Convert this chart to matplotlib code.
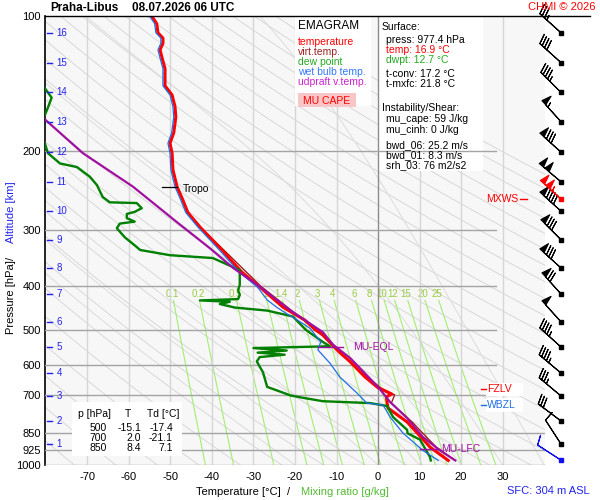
import numpy as np
import matplotlib.pyplot as plt
from matplotlib.patches import Rectangle
from matplotlib.ticker import NullLocator

plt.rcParams['font.family'] = ['Liberation Sans', 'DejaVu Sans']

# ---- sounding (hPa / degC) ----
temp_p = [100, 104, 109, 112, 115, 119, 124, 131, 143, 150, 159, 168, 182, 192, 202, 220,
          240, 257, 274, 295, 332, 372, 402, 445, 476, 500, 513, 554, 589, 636, 673, 695,
          705, 728, 747, 802, 850, 912, 977]
temp_t = [-54.5, -53.3, -53.0, -51.8, -51.8, -52.5, -52.0, -51.3, -51.3, -49.6, -48.9, -48.7,
          -49.2, -50.1, -49.6, -49.4, -48.4, -47.0, -45.8, -42.9, -37.6, -32.8, -28.4, -22.9,
          -17.6, -15.1, -13.3, -9.9, -6.7, -3.2, 0.0, 3.3, 2.0, 2.2, 2.4, 7.0, 9.5, 12.5, 16.9]

virt_p = [300, 400, 500, 600, 673, 698, 728, 802, 850, 912, 977]
virt_t = [-42.0, -28.2, -14.9, -6.0, 0.6, 4.0, 3.2, 8.2, 10.8, 14.0, 18.6]

dew_p = [140, 145, 152, 160, 166, 176, 186, 202, 213, 217, 228, 238, 253, 260, 261, 268,
         273, 276, 282, 287, 290, 297, 311, 327, 332, 341, 346, 368, 397, 408, 418, 427,
         430, 433, 438, 446, 453, 467, 500, 513, 532, 544, 549, 556, 562, 568, 575, 588,
         622, 670, 690, 700, 710, 721, 728, 739, 782, 835, 850, 878, 960, 977]
dew_t = [-82.0, -80.2, -78.6, -79.5, -80.2, -83.0, -80.7, -79.5, -76.6, -72.5, -69.4, -67.7,
         -66.3, -64.6, -58.1, -56.9, -58.6, -60.5, -60.5, -58.6, -62.2, -62.9, -61.0, -58.1,
         -57.3, -50.1, -39.8, -33.3, -33.3, -33.7, -33.3, -33.7, -42.9, -35.7, -38.1, -34.5,
         -26.7, -20.5, -17.4, -15.7, -13.3, -11.6, -30.0, -22.0, -29.0, -22.5, -28.5, -29.2,
         -27.7, -26.7, -22.9, -21.1, -17.5, -13.3, -1.9, 2.2, 3.6, 7.0, 7.1, 10.1, 12.5, 12.7]

wet_p = [100, 104, 109, 112, 115, 119, 124, 131, 143, 150, 159, 168, 182, 192, 202, 220,
         240, 257, 274, 295, 332, 372, 402, 429, 446, 459, 475, 496, 532, 554, 593, 637,
         691, 728, 735, 782, 849, 928, 977]
wet_t = [-55.0, -53.8, -53.5, -52.3, -52.3, -53.0, -52.5, -51.8, -51.8, -50.1, -49.4, -49.2,
         -49.7, -50.6, -50.1, -49.9, -48.9, -47.5, -46.3, -43.4, -38.2, -33.4, -29.0, -26.7,
         -24.3, -22.2, -19.5, -16.4, -13.8, -14.5, -11.6, -9.2, -5.1, -2.7, 1.2, 2.9, 6.0,
         10.8, 14.5]

updr_p = [150, 170, 202, 240, 288, 329, 364, 401, 452, 506, 540, 578, 670, 724, 786, 866, 928, 977]
updr_t = [-86.0, -80.2, -71.1, -59.0, -48.4, -40.5, -34.9, -28.4, -21.2, -13.3, -10.8, -6.7,
          0.0, 2.9, 7.0, 10.8, 14.9, 18.6]

# ---- axes furniture ----
p_ticks = [100, 200, 300, 400, 500, 600, 700, 850, 925, 1000]
t_ticks = [-70, -60, -50, -40, -30, -20, -10, 0, 10, 20, 30]
alt_km = list(range(1, 17))
alt_p = [898, 798, 702, 624, 546, 480, 416, 364, 315, 272, 234, 201, 172, 148, 127, 109]

mix_ratios = [0.1, 0.2, 0.5, 1, 1.4, 2, 3, 4, 6, 8, 10, 12, 15, 20, 25]
mix_labels = ['0.1', '0.2', '0.5', '1', '1.4', '2', '3', '4', '6', '8', '10', '12', '15', '20', '25']
theta_dry = list(range(200, 481, 10))   # K
theta_wet = list(range(-20, 41, 10))    # degC at 1000 hPa

# ---- winds (kt) ----
wind_p = [109, 127, 148, 172, 201, 234, 272, 315, 364, 416, 480, 546, 624, 702, 798, 898]
wind_dir = [312, 312, 315, 318, 312, 310, 312, 315, 312, 318, 318, 312, 310, 310, 307, 327]
wind_kt = [35, 40, 45, 55, 80, 100, 90, 80, 80, 70, 50, 45, 45, 35, 30, 10]
sfc_p, sfc_dir, sfc_kt = 977, 303, 10
mx_p, mx_dir, mx_kt = 256, 312, 105

# ---- levels ----
tropo_p, tropo_t = 240, -48.4
eql_p, eql_t = 546, -11.5
lfc_p, lfc_t = 921, 12.5
fzlv_p = 677
wbzl_p = 736

table_rows = [('500', '-15.1', '-17.4'), ('700', '2.0', '-21.1'), ('850', '8.4', '7.1')]

W, H = 600, 500
fig = plt.figure(figsize=(W / 100, H / 100), dpi=100)


def fx(x):
    return x / W


def fy(y):
    return 1 - y / H


ax = fig.add_axes([fx(45), fy(465), fx(545) - fx(45), fy(16) - fy(465)])
ax.set_yscale('log')
ax.set_xlim(-80.2, 40.2)
ax.set_ylim(1000, 100)
ax.set_facecolor('#f7f7f7')
for s in ['top', 'right', 'bottom']:
    ax.spines[s].set_visible(False)
ax.spines['left'].set_linewidth(1.2)

ax.set_yticks(p_ticks)
ax.set_yticklabels([str(p) for p in p_ticks])
ax.yaxis.set_minor_locator(NullLocator())
ax.set_xticks(t_ticks)
ax.set_xticklabels([str(t) for t in t_ticks])
ax.tick_params(axis='y', length=0, pad=3, labelsize=8)
ax.tick_params(axis='x', length=0, pad=5, labelsize=8)

# dry adiabats
pp = np.geomspace(1000, 100, 120)
for th in theta_dry:
    ax.plot(th * (pp / 1000) ** 0.286 - 273.15, pp, color='#d8d8d8', lw=0.7, zorder=1)

# pseudo adiabats
for t0 in theta_wet:
    T = t0 + 273.15
    tt = [T]
    for i in range(1, len(pp)):
        p = pp[i - 1]
        es = 6.112 * np.exp(17.67 * (T - 273.15) / (T - 29.65))
        rs = 0.622 * es / (p - es)
        dtdp = (287 * T + 2.5e6 * rs) / (1004 + 2.5e6 ** 2 * rs * 0.622 / (287 * T * T)) / p
        T = T + dtdp * (pp[i] - p)
        tt.append(T)
    ax.plot(np.array(tt) - 273.15, pp, color='#dcdcdc', lw=0.7, zorder=1)

# mixing ratio lines
pm = np.geomspace(1000, 430, 30)
for w, lab in zip(mix_ratios, mix_labels):
    e = w * pm / (622 + w)
    lg = np.log(e / 6.112)
    ax.plot(243.5 * lg / (17.67 - lg), pm, color='#a2ee72', lw=0.8, zorder=1)
    e = w * 415.0 / (622 + w)
    lg = np.log(e / 6.112)
    ax.text(243.5 * lg / (17.67 - lg), 415, lab, color='#99cc44', fontsize=7,
            ha='center', va='center', zorder=1)

# temperature grid
for t in t_ticks:
    if t == 0:
        ax.axvline(t, color='#8c8c8c', lw=1.0, zorder=3)
    else:
        ax.axvline(t, color='#d6d6d6', lw=1.0, zorder=1)


def box(x0, y0, x1, y1, color='white', z=2):
    ax.add_patch(Rectangle((fx(x0), fy(y1)), fx(x1) - fx(x0), fy(y0) - fy(y1),
                           transform=fig.transFigure, facecolor=color, edgecolor='none', zorder=z))


box(295, 16, 371, 106)
box(379, 16, 483, 171)
box(298, 93, 356, 107, color='#f8c6c6', z=2.1)

# pressure grid
for p in p_ticks[1:]:
    xend = 40.2 if p >= 850 else 28.4
    ax.plot([-80.2, xend], [p, p], color='#a4a4a4', lw=1.0, zorder=3)

box(72, 402, 182, 456, z=3.5)

# profiles
ax.plot(virt_t, virt_p, color='#9a1010', lw=0.9, zorder=5)
ax.plot(temp_t, temp_p, color='#ff0000', lw=2.2, zorder=6)
ax.plot(wet_t, wet_p, color='#1f6ee8', lw=0.9, zorder=7)
ax.plot(dew_t, dew_p, color='#008000', lw=1.7, zorder=6)
ax.plot(updr_t, updr_p, color='#a010a0', lw=1.6, zorder=7)

# altitude ticks
for km, p in zip(alt_km, alt_p):
    ax.plot([-79.7, -78.4], [p, p], color='#2222ee', lw=1.0, zorder=8)
    ax.text(-77.4, p, str(km), color='#2222ee', fontsize=7, va='center', ha='left', zorder=8)

# level markers
ax.plot([tropo_t - 3.6, tropo_t], [tropo_p, tropo_p], color='k', lw=0.9, zorder=8)
ax.text(tropo_t + 1.5, tropo_p * 1.01, 'Tropo', fontsize=7.5, va='center', zorder=8)
ax.plot([eql_t - 3, eql_t + 3], [eql_p, eql_p], color='#a010a0', lw=1.0, zorder=8)
ax.text(eql_t + 5.5, eql_p, 'MU-EQL', color='#a010a0', fontsize=7.5, va='center', zorder=8)
ax.plot([lfc_t - 2.4, lfc_t + 2.4], [lfc_p, lfc_p], color='#a010a0', lw=1.0, zorder=8)
ax.text(lfc_t + 2.6, lfc_p, 'MU-LFC', color='#a010a0', fontsize=7.5, va='center', zorder=8)

box(486, 383, 523, 396, z=8)
box(486, 398, 523, 412, z=8)
ax.plot([24.8, 26.1], [fzlv_p, fzlv_p], color='#ff0000', lw=1.0, zorder=9)
ax.text(26.3, fzlv_p, 'FZLV', color='#ff0000', fontsize=7.5, va='center', zorder=9)
ax.plot([24.8, 26.1], [wbzl_p, wbzl_p], color='#1f6ee8', lw=1.0, zorder=9)
ax.text(26.3, wbzl_p, 'WBZL', color='#1f6ee8', fontsize=7.5, va='center', zorder=9)
ax.plot([34.2, 35.9], [mx_p, mx_p], color='#ff0000', lw=1.0, zorder=9)
ax.text(33.8, mx_p, 'MXWS', color='#ff0000', fontsize=7.5, va='center', ha='right', zorder=9)

# wind barbs
bax = fig.add_axes([fx(500), fy(465), fx(600) - fx(500), fy(16) - fy(465)])
bax.set_yscale('log')
bax.set_ylim(1000, 100)
bax.set_xlim(0, 1)
bax.axis('off')


def uv(spd, d):
    r = np.deg2rad(np.array(d, dtype=float))
    spd = np.array(spd, dtype=float)
    return -spd * np.sin(r), -spd * np.cos(r)


bx = 0.61
bkw = dict(length=6.4, linewidth=0.8, clip_on=False,
           sizes=dict(spacing=0.11, height=0.34, width=0.2))
u, v = uv(wind_kt, wind_dir)
bax.barbs([bx] * len(wind_p), wind_p, u, v, color='k', **bkw)
bax.plot([bx] * len(wind_p), wind_p, 's', ms=2.5, color='k', clip_on=False)
u, v = uv([mx_kt], [mx_dir])
bax.barbs([bx], [mx_p], u, v, color='#ff0000', **bkw)
bax.plot([bx], [mx_p], 's', ms=2.5, color='#ff0000')
u, v = uv([sfc_kt], [sfc_dir])
bax.barbs([bx], [sfc_p], u, v, color='#1010ee', **bkw)
bax.plot([bx], [sfc_p], 's', ms=2.5, color='#1010ee')

# frame top line
fig.add_artist(plt.Line2D([fx(45), fx(590)], [fy(16), fy(16)], color='k', lw=1.0))

# titles
fig.text(fx(50), fy(8), 'Praha-Libus', fontsize=8.5, fontweight='bold', va='center')
fig.text(fx(132), fy(8), '08.07.2026 06 UTC', fontsize=8.5, fontweight='bold', va='center')
fig.text(fx(596), fy(7), 'CHMI \u00a9 2026', fontsize=8, color='#ff0000', ha='right', va='center')

# axis labels
fig.text(fx(11), fy(297), 'Pressure [hPa]', rotation=90, fontsize=8, ha='center', va='center')
fig.text(fx(11), fy(258), '/', rotation=90, fontsize=8, ha='center', va='center')
fig.text(fx(11), fy(212), 'Altitude [km]', rotation=90, fontsize=8, ha='center', va='center', color='#2222ee')
fig.text(fx(238), fy(492), 'Temperature [\u00b0C]', fontsize=8, ha='center', va='center')
fig.text(fx(289), fy(492), '/', fontsize=8, ha='center', va='center')
fig.text(fx(345), fy(492), 'Mixing ratio [g/kg]', fontsize=8, ha='center', va='center', color='#55bb33')
fig.text(fx(590), fy(491), 'SFC: 304 m ASL', fontsize=8, ha='right', va='center', color='#2222ee')

# legend box
legend_items = [('EMAGRAM', 'k', 26), ('temperature', '#ff0000', 42), ('virt.temp.', '#a02020', 52),
                ('dew point', '#22aa22', 62), ('wet bulb temp.', '#3377ff', 72),
                ('udpraft v.temp.', '#cc22cc', 82)]
for txt, c, y in legend_items:
    fig.text(fx(298), fy(y), txt, fontsize=8.5 if txt == 'EMAGRAM' else 7.5, color=c, va='center')
fig.text(fx(303), fy(101), 'MU CAPE', fontsize=7.5, color='#ff0000', va='center')

# info box
info_lines = [('Surface:', 'k', 382, 27), ('press: 977.4 hPa', 'k', 386, 40),
              ('temp: 16.9 \u00b0C', '#ff0000', 386, 50), ('dwpt: 12.7 \u00b0C', '#22aa22', 386, 60),
              ('t-conv: 17.2 \u00b0C', 'k', 386, 74), ('t-mxfc: 21.8 \u00b0C', 'k', 386, 84),
              ('Instability/Shear:', 'k', 382, 108), ('mu_cape: 59 J/kg', 'k', 386, 119),
              ('mu_cinh: 0 J/kg', 'k', 386, 130), ('bwd_06: 25.2 m/s', 'k', 386, 145),
              ('bwd_01: 8.3 m/s', 'k', 386, 155), ('srh_03: 76 m2/s2', 'k', 386, 165)]
for txt, c, x, y in info_lines:
    fig.text(fx(x), fy(y), txt, fontsize=7.5, color=c, va='center')

# table
fig.text(fx(78), fy(414), 'p [hPa]', fontsize=7.5, va='center')
fig.text(fx(128), fy(414), 'T', fontsize=7.5, va='center', ha='center')
fig.text(fx(147), fy(414), 'Td [\u00b0C]', fontsize=7.5, va='center')
for i, (p, t, td) in enumerate(table_rows):
    y = 428 + i * 10
    fig.text(fx(107), fy(y), p, fontsize=7.5, va='center', ha='right')
    fig.text(fx(141), fy(y), t, fontsize=7.5, va='center', ha='right')
    fig.text(fx(173), fy(y), td, fontsize=7.5, va='center', ha='right')

fig.savefig('out.png', dpi=100, facecolor='white')
